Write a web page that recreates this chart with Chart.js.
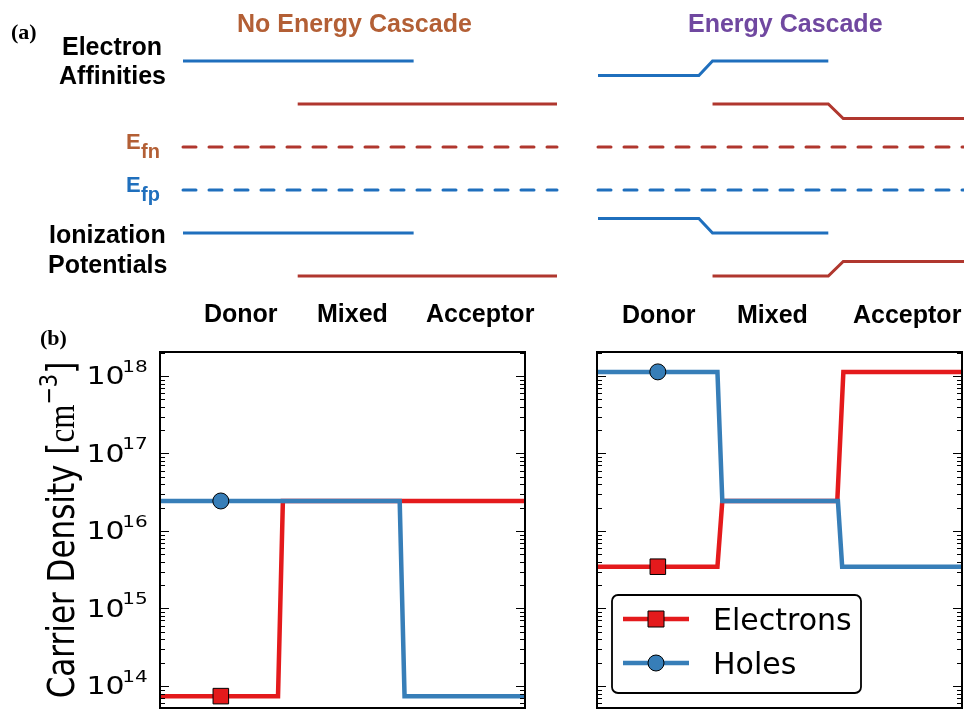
<!DOCTYPE html>
<html>
<head>
<meta charset="utf-8">
<script src="https://cdn.jsdelivr.net/npm/chart.js@4/dist/chart.umd.min.js"></script>
<style>
  html, body { margin: 0; padding: 0; background: #fff; }
  #figure { position: relative; width: 964px; height: 709px; overflow: hidden; background: #fff; }
  #figure canvas { position: absolute; left: 0; top: 0; }
</style>
</head>
<body>
<div id="figure">
  <canvas id="bandsFlat" width="964" height="709"></canvas>
  <canvas id="bandsCascade" width="964" height="709"></canvas>
  <canvas id="densityFlat" width="964" height="709"></canvas>
  <canvas id="densityCascade" width="964" height="709"></canvas>
</div>
<script>
// ---------------- Panel (a): energy levels in eV, position 0 (donor side) .. 3 (acceptor side)
const regionLabels = ['Donor', 'Mixed', 'Acceptor'];
const quasiFermiX = [0, 3];
const efn = [-4.0, -4.0];
const efp = [-4.5, -4.5];

// no energy cascade
const flatDonorX = [0, 1.85];
const flatDonorEA = [-3.0, -3.0];
const flatDonorIP = [-5.0, -5.0];
const flatAcceptorX = [0.92, 3];
const flatAcceptorEA = [-3.5, -3.5];
const flatAcceptorIP = [-5.5, -5.5];

// energy cascade
const cascDonorX = [0, 0.81, 0.92, 1.85];
const cascDonorEA = [-3.17, -3.17, -3.0, -3.0];
const cascDonorIP = [-4.83, -4.83, -5.0, -5.0];
const cascAcceptorX = [0.92, 1.85, 1.97, 3];
const cascAcceptorEA = [-3.5, -3.5, -3.67, -3.67];
const cascAcceptorIP = [-5.5, -5.5, -5.33, -5.33];

// ---------------- Panel (b): carrier densities in cm^-3
const seriesNames = ['Electrons', 'Holes'];
const markerX = 0.5;
const flatElecX = [0, 0.5, 0.97, 1.01, 3];
const flatElec = [7.4e13, 7.4e13, 7.4e13, 2.44e16, 2.44e16];
const flatHoleX = [0, 0.5, 1.97, 2.01, 3];
const flatHole = [2.44e16, 2.44e16, 2.44e16, 7.4e13, 7.4e13];
const cascElecX = [0, 0.5, 0.99, 1.03, 1.975, 2.025, 3];
const cascElec = [3.46e15, 3.46e15, 3.46e15, 2.44e16, 2.44e16, 1.13e18, 1.13e18];
const cascHoleX = [0, 0.5, 0.99, 1.03, 1.98, 2.015, 3];
const cascHole = [1.13e18, 1.13e18, 1.13e18, 2.44e16, 2.44e16, 3.46e15, 3.46e15];
const decadeExponents = [14, 15, 16, 17, 18];
const densityMin = 5.2e13;
const densityMax = 2.04e18;

// ---------------- styling
const SANS = '"DejaVu Sans", sans-serif';
const HELV = '"Liberation Sans", Arial, sans-serif';
const SERIF = '"Liberation Serif", "Times New Roman", serif';
const bandBlue = '#1f6fbd';
const bandRed = '#b0372e';
const fermiOrange = '#b35f35';
const cascadePurple = '#7048a0';
const elecRed = '#e41a1c';
const holeBlue = '#377eb8';

const pts = (xs, ys) => xs.map((x, i) => ({ x, y: ys[i] }));

function textPlugin(items) {
  return {
    id: 'panelText',
    afterDraw(chart) {
      const ctx = chart.ctx;
      ctx.save();
      ctx.textBaseline = 'alphabetic';
      for (const it of items) {
        ctx.font = it.font;
        ctx.fillStyle = it.color || '#000';
        ctx.textAlign = it.align || 'left';
        ctx.fillText(it.text, it.x, it.y);
      }
      ctx.restore();
    }
  };
}

function levelLine(xs, ys, color, dashed) {
  return {
    data: pts(xs, ys),
    borderColor: color,
    borderWidth: 3,
    borderDash: dashed ? [13, 13] : [],
    borderCapStyle: dashed ? 'round' : 'butt',
    borderJoinStyle: 'miter',
    pointRadius: 0,
    tension: 0,
    clip: false
  };
}

function bandChart(id, datasets, pad, xMax, texts) {
  return new Chart(document.getElementById(id), {
    type: 'line',
    data: { datasets },
    options: {
      responsive: false,
      animation: false,
      devicePixelRatio: 1,
      events: [],
      layout: { padding: pad, autoPadding: false },
      plugins: { legend: { display: false }, tooltip: { enabled: false } },
      scales: {
        x: { type: 'linear', min: 0, max: xMax, bounds: 'data', display: false },
        y: { type: 'linear', min: -6.0, max: -2.5, bounds: 'data', display: false }
      }
    },
    plugins: [textPlugin(texts)]
  });
}

const B25 = 'bold 25px ' + HELV;

bandChart('bandsFlat', [
  levelLine(flatDonorX, flatDonorEA, bandBlue),
  levelLine(flatDonorX, flatDonorIP, bandBlue),
  levelLine(flatAcceptorX, flatAcceptorEA, bandRed),
  levelLine(flatAcceptorX, flatAcceptorIP, bandRed),
  levelLine(quasiFermiX, efn, bandRed, true),
  levelLine(quasiFermiX, efp, bandBlue, true)
], { left: 183, right: 407, top: 18, bottom: 390 }, 3, [
  { text: '(a)', x: 11, y: 39, font: 'bold 22px ' + SERIF },
  { text: 'No Energy Cascade', x: 237, y: 32, font: B25, color: fermiOrange },
  { text: 'Electron', x: 62, y: 55, font: B25 },
  { text: 'Affinities', x: 59, y: 84, font: B25 },
  { text: 'E', x: 126, y: 149, font: 'bold 22px ' + HELV, color: fermiOrange },
  { text: 'fn', x: 141, y: 158, font: 'bold 20px ' + HELV, color: fermiOrange },
  { text: 'E', x: 126, y: 192, font: 'bold 22px ' + HELV, color: bandBlue },
  { text: 'fp', x: 141, y: 201, font: 'bold 20px ' + HELV, color: bandBlue },
  { text: 'Ionization', x: 49, y: 243, font: B25 },
  { text: 'Potentials', x: 48, y: 273, font: B25 },
  { text: regionLabels[0], x: 204, y: 322, font: B25 },
  { text: regionLabels[1], x: 317, y: 322, font: B25 },
  { text: regionLabels[2], x: 426, y: 322, font: B25 }
]);

bandChart('bandsCascade', [
  levelLine(cascDonorX, cascDonorEA, bandBlue),
  levelLine(cascDonorX, cascDonorIP, bandBlue),
  levelLine(cascAcceptorX, cascAcceptorEA, bandRed),
  levelLine(cascAcceptorX, cascAcceptorIP, bandRed),
  levelLine(quasiFermiX, efn, bandRed, true),
  levelLine(quasiFermiX, efp, bandBlue, true)
], { left: 598, right: 0, top: 18, bottom: 390 }, 2.94, [
  { text: 'Energy Cascade', x: 688, y: 32, font: B25, color: cascadePurple },
  { text: regionLabels[0], x: 622, y: 323, font: B25 },
  { text: regionLabels[1], x: 737, y: 323, font: B25 },
  { text: regionLabels[2], x: 853, y: 323, font: B25 }
]);

// ---------------- density plots
function densityDatasets(ex, ey, hx, hy) {
  return [
    {
      label: seriesNames[0],
      data: pts(ex, ey),
      borderColor: elecRed, backgroundColor: elecRed,
      borderWidth: 4.5, tension: 0, clip: 0, order: 1,
      borderCapStyle: 'butt', borderJoinStyle: 'miter',
      pointStyle: 'rect',
      pointRadius: ex.map(x => (x === markerX ? 11 : 0)),
      pointBackgroundColor: elecRed, pointBorderColor: '#000', pointBorderWidth: 1
    },
    {
      label: seriesNames[1],
      data: pts(hx, hy),
      borderColor: holeBlue, backgroundColor: holeBlue,
      borderWidth: 4.5, tension: 0, clip: 0, order: 0,
      borderCapStyle: 'butt', borderJoinStyle: 'miter',
      pointStyle: 'circle',
      pointRadius: hx.map(x => (x === markerX ? 8 : 0)),
      pointBackgroundColor: holeBlue, pointBorderColor: '#000', pointBorderWidth: 1
    }
  ];
}

// spines plus inward log ticks on both vertical edges
const framePlugin = {
  id: 'frameTicks',
  afterDraw(chart) {
    const ctx = chart.ctx, a = chart.chartArea, ys = chart.scales.y;
    ctx.save();
    ctx.strokeStyle = '#000';
    ctx.lineWidth = 1.2;
    for (let d = 13; d <= 18; d++) {
      for (let m = 1; m <= 9; m++) {
        const v = m * Math.pow(10, d);
        if (v < ys.min || v > ys.max) continue;
        const y = Math.round(ys.getPixelForValue(v)) + 0.5;
        const len = m === 1 ? 9 : 5;
        ctx.beginPath();
        ctx.moveTo(a.left, y); ctx.lineTo(a.left + len, y);
        ctx.moveTo(a.right, y); ctx.lineTo(a.right - len, y);
        ctx.stroke();
      }
    }
    ctx.lineWidth = 2;
    ctx.strokeRect(a.left, a.top, a.right - a.left, a.bottom - a.top);
    ctx.restore();
  }
};

const axisLabelPlugin = {
  id: 'axisLabels',
  afterDraw(chart) {
    const ctx = chart.ctx, a = chart.chartArea, ys = chart.scales.y;
    ctx.save();
    ctx.fillStyle = '#000';
    ctx.textBaseline = 'alphabetic';
    ctx.textAlign = 'left';
    // decade labels 10^n
    const sx = 1.25;
    for (const e of decadeExponents) {
      const y = ys.getPixelForValue(Math.pow(10, e));
      ctx.save();
      ctx.translate(86.5, 0);
      ctx.scale(sx, 1);
      ctx.font = '24px ' + SANS;
      ctx.fillText('10', 0, y + 8.5);
      const adv = ctx.measureText('10').width;
      ctx.font = '16px ' + SANS;
      ctx.fillText(String(e), adv - 2, y - 4);
      ctx.restore();
    }
    // rotated axis title
    const cy = (a.top + a.bottom) / 2;
    const parts = [
      { t: 'Carrier Density [', f: '31px ' + SANS, dy: 0 },
      { t: 'cm', f: '31px ' + SERIF, dy: 0 },
      { t: '\u22123', f: '21px ' + SANS, dy: -14 },
      { t: ']', f: '31px ' + SANS, dy: 0 }
    ];
    let total = 0;
    for (const p of parts) { ctx.font = p.f; p.w = ctx.measureText(p.t).width; total += p.w; }
    ctx.translate(74, cy);
    ctx.rotate(-Math.PI / 2);
    ctx.scale(1, 1.2);
    let x = -total / 2;
    for (const p of parts) { ctx.font = p.f; ctx.fillText(p.t, x, p.dy); x += p.w; }
    ctx.restore();
    // panel tag
    ctx.save();
    ctx.font = 'bold 22px ' + SERIF;
    ctx.fillStyle = '#000';
    ctx.fillText('(b)', 40, 345);
    ctx.restore();
  }
};

const legendPlugin = {
  id: 'boxLegend',
  afterDraw(chart) {
    const ctx = chart.ctx;
    const bx = 612, by = 595, bw = 249, bh = 98, r = 6;
    ctx.save();
    ctx.beginPath();
    ctx.moveTo(bx + r, by);
    ctx.arcTo(bx + bw, by, bx + bw, by + bh, r);
    ctx.arcTo(bx + bw, by + bh, bx, by + bh, r);
    ctx.arcTo(bx, by + bh, bx, by, r);
    ctx.arcTo(bx, by, bx + bw, by, r);
    ctx.closePath();
    ctx.fillStyle = '#fff';
    ctx.fill();
    ctx.strokeStyle = '#000';
    ctx.lineWidth = 1.8;
    ctx.stroke();
    const rows = [619, 663];
    chart.data.datasets.forEach((ds, i) => {
      const y = rows[i];
      ctx.strokeStyle = ds.borderColor;
      ctx.lineWidth = ds.borderWidth;
      ctx.beginPath();
      ctx.moveTo(623, y); ctx.lineTo(689, y);
      ctx.stroke();
      ctx.fillStyle = ds.pointBackgroundColor;
      ctx.strokeStyle = '#000';
      ctx.lineWidth = 1;
      ctx.beginPath();
      if (ds.pointStyle === 'rect') ctx.rect(648, y - 8, 16, 16);
      else ctx.arc(656, y, 8, 0, Math.PI * 2);
      ctx.fill();
      ctx.stroke();
      ctx.fillStyle = '#000';
      ctx.font = '30px ' + SANS;
      ctx.textBaseline = 'alphabetic';
      ctx.fillText(ds.label, 713, y + 11);
    });
    ctx.restore();
  }
};

function densityChart(id, datasets, pad, extra) {
  return new Chart(document.getElementById(id), {
    type: 'line',
    data: { datasets },
    options: {
      responsive: false,
      animation: false,
      devicePixelRatio: 1,
      events: [],
      layout: { padding: pad, autoPadding: false },
      plugins: { legend: { display: false }, tooltip: { enabled: false } },
      scales: {
        x: { type: 'linear', min: 0, max: 3, bounds: 'data', display: false },
        y: { type: 'logarithmic', min: densityMin, max: densityMax, bounds: 'data', display: false }
      }
    },
    plugins: [framePlugin].concat(extra)
  });
}

densityChart('densityFlat', densityDatasets(flatElecX, flatElec, flatHoleX, flatHole),
  { left: 160, right: 439, top: 352, bottom: 1 }, [axisLabelPlugin]);
densityChart('densityCascade', densityDatasets(cascElecX, cascElec, cascHoleX, cascHole),
  { left: 597, right: 2, top: 352, bottom: 1 }, [legendPlugin]);
</script>
</body>
</html>
